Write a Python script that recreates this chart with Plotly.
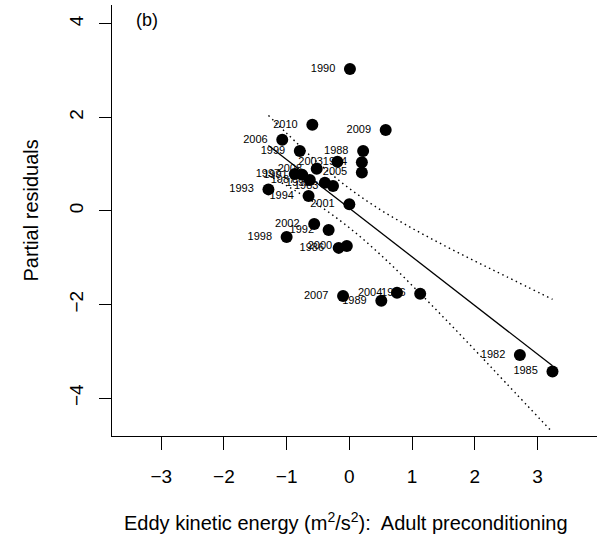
import plotly.graph_objects as go

# Data
years = [1990, 2010, 2009, 2006, 1999, 1988, 2003, 1984, 2005, 2008,
         1997, 1991, 1987, 1995, 1983, 1993, 1994, 2001, 2002, 1992,
         1998, 1986, 2000, 2007, 1989, 2004, 1996, 1982, 1985]
eke = [0.01, -0.59, 0.58, -1.07, -0.79, 0.22, -0.19, 0.20, 0.20, -0.52,
       -0.87, -0.75, -0.63, -0.39, -0.26, -1.29, -0.65, 0.00, -0.56, -0.33,
       -1.00, -0.17, -0.04, -0.10, 0.51, 0.76, 1.13, 2.72, 3.24]
resid = [3.03, 1.84, 1.73, 1.52, 1.28, 1.28, 1.05, 1.04, 0.82, 0.90,
         0.79, 0.77, 0.66, 0.60, 0.53, 0.46, 0.32, 0.14, -0.28, -0.41,
         -0.56, -0.79, -0.75, -1.82, -1.92, -1.75, -1.77, -3.08, -3.43]

fit_x = [-1.29, 3.24]
fit_y = [1.40, -3.31]

ci_x = [-1.29, -1.0, -0.5, 0.0, 0.5, 1.0, 1.5, 2.0, 2.5, 3.24]
ci_upper = [2.04, 1.66, 1.03, 0.48, 0.02, -0.37, -0.73, -1.07, -1.40, -1.89]
ci_lower = [0.76, 0.54, 0.13, -0.36, -0.94, -1.59, -2.27, -2.97, -3.68, -4.73]

x_ticks = [-3, -2, -1, 0, 1, 2, 3]
y_ticks = [-4, -2, 0, 2, 4]

FONT = "Liberation Sans, Arial, Helvetica, sans-serif"
PAD = "\u00a0\u00a0"

fig = go.Figure()
for yy in (ci_upper, ci_lower):
    fig.add_trace(go.Scatter(x=ci_x, y=yy, mode="lines",
                             line=dict(color="black", width=1.4, dash="1.5px,3.5px"),
                             line_shape="spline", hoverinfo="skip"))
fig.add_trace(go.Scatter(x=fit_x, y=fit_y, mode="lines",
                         line=dict(color="black", width=1.3)))
fig.add_trace(go.Scatter(x=eke, y=resid, mode="markers+text",
                         text=[str(y) + PAD for y in years],
                         textposition="middle left",
                         textfont=dict(family=FONT, size=11, color="black"),
                         marker=dict(color="black", size=12)))

fig.update_layout(
    width=599, height=539,
    margin=dict(l=112, r=2, t=5, b=103),
    paper_bgcolor="white", plot_bgcolor="white",
    showlegend=False,
    font=dict(family=FONT, size=19, color="black"),
    xaxis=dict(range=[-3.785, 3.95], tickvals=x_ticks,
               ticktext=["\u22123", "\u22122", "\u22121", "0", "1", "2", "3"],
               showgrid=False, zeroline=False, showline=True,
               linecolor="black", linewidth=1.3, mirror=False,
               ticks="outside", ticklen=13, tickwidth=1.3, tickcolor="black",
               ticklabelstandoff=10, automargin=False),
    yaxis=dict(range=[-4.81, 4.40], tickvals=y_ticks,
               ticktext=["\u22124", "\u22122", "0", "2", "4"],
               tickangle=-90,
               showgrid=False, zeroline=False, showline=True,
               linecolor="black", linewidth=1.3, mirror=False,
               ticks="outside", ticklen=12, tickwidth=1.3, tickcolor="black",
               ticklabelstandoff=8, automargin=False),
    annotations=[
        dict(text="(b)", x=-3.23, y=4.08, xref="x", yref="y",
             showarrow=False, font=dict(size=18), xanchor="center", yanchor="middle"),
        dict(text="Eddy kinetic energy (m<sup>2</sup>/s<sup>2</sup>):  Adult preconditioning",
             x=(346 - 112) / 485, y=0, xref="paper", yref="paper", yshift=-85,
             showarrow=False, xanchor="center", yanchor="middle", font=dict(size=20)),
        dict(text="Partial residuals", x=0, y=0.5, xref="paper", yref="paper",
             xshift=-82, yshift=10, textangle=-90, showarrow=False,
             xanchor="center", yanchor="middle", font=dict(size=20)),
    ],
)

fig.write_html("out.html")
